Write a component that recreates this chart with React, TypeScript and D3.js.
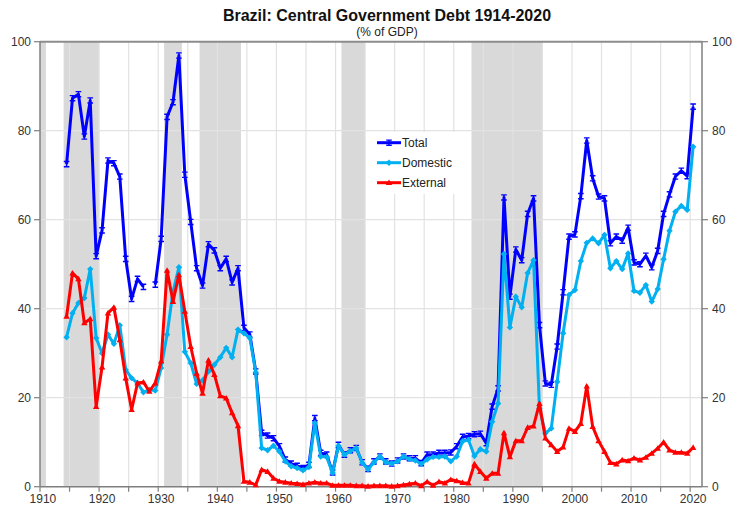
import * as d3 from "d3"

// categories and values (% of GDP)
const firstYear = 1914
const lastYear = 2020
const years = d3.range(firstYear, lastYear + 1)

const total: (number | null)[] = [
  72.5, 87.3, 88.2, 78.7, 86.8, 51.8, 57.6, 73.3, 72.7, 69.7,
  51.2, 42.2, 46.7, 44.9, null, 45.4, 55.7, 83.1, 86.4, 96.9,
  70.1, 59.5, 49.1, 45.2, 54.5, 53.1, 49.1, 51.2, 45.9, 49.1,
  35.7, 34.2, 25.9, 12.1, 11.5, 10.9, 9.1, 6.1, 5.2, 4.7,
  4.2, 4.9, 15.4, 7.6, 7.2, 3.2, 9.4, 7.2, 8.2, 8.7,
  5.5, 4.0, 5.7, 6.8, 5.7, 5.2, 5.9, 6.8, 6.4, 6.4,
  5.3, 7.2, 7.2, 7.6, 7.6, 7.7, 9.1, 11.2, 11.4, 11.8,
  11.9, 9.8, 18.0, 22.1, 65.0, 42.7, 53.3, 50.9, 61.3, 64.8,
  36.3, 23.2, 22.9, 31.5, 43.7, 56.2, 56.7, 65.3, 77.8, 69.3,
  65.2, 64.8, 54.7, 56.2, 55.3, 58.2, 50.4, 50.0, 51.9, 49.3,
  53.0, 61.3, 65.7, 69.7, 71.0, 69.8, 85.4,
]

const domestic: (number | null)[] = [
  33.6, 39.0, 41.3, 42.4, 48.9, 33.4, 30.0, 34.2, 32.1, 36.3,
  26.3, 24.4, 23.3, 21.2, 21.8, 21.6, 26.7, 34.2, 43.8, 49.3,
  30.3, 27.8, 23.1, 23.9, 25.9, 27.4, 29.1, 31.2, 29.1, 35.3,
  34.5, 33.4, 25.7, 8.7, 8.2, 9.2, 7.9, 5.7, 4.6, 4.2,
  3.7, 4.4, 14.3, 6.8, 6.7, 3.1, 9.2, 7.2, 8.0, 8.7,
  5.4, 3.9, 5.5, 6.8, 5.5, 5.2, 5.7, 6.8, 6.2, 5.9,
  5.1, 6.1, 6.7, 6.7, 6.8, 5.7, 6.8, 10.2, 10.5, 6.9,
  8.4, 7.9, 14.6, 18.7, 52.3, 35.8, 42.7, 40.3, 48.0, 50.9,
  17.6, 12.0, 13.1, 23.6, 34.5, 43.1, 44.2, 50.7, 54.8, 55.8,
  54.7, 56.6, 49.1, 50.7, 48.9, 52.4, 44.0, 43.6, 45.3, 41.6,
  44.4, 51.1, 57.5, 61.8, 63.1, 62.2, 76.4,
]

const external: (number | null)[] = [
  38.3, 48.0, 46.7, 36.8, 37.7, 18.0, 26.9, 39.0, 40.3, 33.0,
  24.4, 17.3, 23.3, 23.5, 21.4, 23.3, 28.2, 48.6, 41.6, 47.6,
  39.4, 31.5, 25.5, 21.0, 28.4, 25.2, 20.4, 19.9, 16.6, 13.7,
  1.2, 1.0, 0.4, 3.8, 3.4, 1.9, 1.2, 1.0, 0.8, 0.7,
  0.5, 0.8, 1.0, 0.8, 0.8, 0.3, 0.3, 0.3, 0.3, 0.2,
  0.2, 0.1, 0.2, 0.2, 0.2, 0.1, 0.2, 0.4, 0.6, 0.8,
  0.2, 1.1, 0.3, 1.1, 0.8, 1.6, 1.3, 0.9, 0.8, 5.1,
  3.4, 1.9, 3.0, 3.0, 12.1, 6.7, 10.3, 10.3, 13.3, 13.6,
  18.7, 10.9, 9.4, 7.9, 8.9, 13.1, 12.4, 14.2, 22.6, 13.5,
  10.3, 7.9, 5.4, 5.1, 6.0, 5.8, 6.4, 6.0, 6.6, 7.5,
  8.6, 10.0, 8.2, 7.7, 7.7, 7.5, 8.8,
]

// shaded periods (first year, last year)
const shaded: [number, number][] = [
  [1910, 1910], [1914, 1919], [1931, 1933], [1937, 1943], [1961, 1964], [1983, 1994],
]

const yTicks = [0, 20, 40, 60, 80, 100]
const xLabels = [1910, 1920, 1930, 1940, 1950, 1960, 1970, 1980, 1990, 2000, 2010, 2020]

const W = 736
const H = 508
const left = 40
const right = 702
const top = 41.7
const bottom = 486.7
const font = "'Liberation Sans', Arial, sans-serif"

const series = [
  { name: "Total", values: total, color: "#0000FF", marker: "dash" },
  { name: "Domestic", values: domestic, color: "#00B0F0", marker: "diamond" },
  { name: "External", values: external, color: "#FF0000", marker: "triangle" },
]

const Marker = ({ kind, color, x, y }: { kind: string; color: string; x: number; y: number }) => {
  if (kind === "dash")
    return (
      <path
        d={`M${x - 2.8},${y - 2.6}h5.6M${x - 2.8},${y + 2.6}h5.6M${x},${y - 2.6}v5.2`}
        stroke={color}
        strokeWidth={1.4}
        fill="none"
      />
    )
  if (kind === "diamond")
    return <path d={`M${x},${y - 3.2}L${x + 3.2},${y}L${x},${y + 3.2}L${x - 3.2},${y}Z`} fill={color} />
  return <path d={`M${x},${y - 3.2}L${x + 3.2},${y + 2.4}L${x - 3.2},${y + 2.4}Z`} fill={color} />
}

export default function App() {
  const x = d3.scaleLinear().domain([1909.5, 2021.5]).range([left, right])
  const y = d3.scaleLinear().domain([0, 100]).range([bottom, top])

  const xTicks = d3.range(1909.5, 2021, 5)

  const line = d3
    .line<[number, number | null]>()
    .defined((d) => d[1] != null)
    .x((d) => x(d[0]))
    .y((d) => y(d[1] as number))

  return (
    <svg
      width={W}
      height={H}
      style={{ position: "absolute", left: 0, top: 0, display: "block", background: "#fff" }}
      fontFamily={font}
    >
      {/* shaded periods */}
      {shaded.map(([a, b], i) => (
        <rect key={i} x={x(a - 0.5)} y={top} width={x(b + 0.5) - x(a - 0.5)} height={bottom - top} fill="#d9d9d9" />
      ))}

      {/* grid */}
      {yTicks.slice(1, -1).map((t) => (
        <line key={t} x1={left} x2={right} y1={y(t)} y2={y(t)} stroke="#e2e2e2" strokeWidth={1.2} />
      ))}
      {xTicks.slice(1).map((t) => (
        <line key={t} x1={x(t)} x2={x(t)} y1={top} y2={bottom} stroke="#e2e2e2" strokeWidth={1.2} />
      ))}

      {/* legend box */}
      <rect x={366} y={132} width={92} height={62} fill="#fff" />

      {/* plot frame */}
      <line x1={left} x2={right} y1={top} y2={top} stroke="#8c8c8c" strokeWidth={2} />
      <line x1={left} x2={left} y1={top} y2={bottom} stroke="#7f7f7f" strokeWidth={1.5} />
      <line x1={right} x2={right} y1={top} y2={bottom} stroke="#7f7f7f" strokeWidth={1.5} />
      <line x1={left} x2={right} y1={bottom} y2={bottom} stroke="#7f7f7f" strokeWidth={1.5} />

      {/* y axes */}
      {yTicks.map((t) => (
        <g key={t}>
          <line x1={left - 6} x2={left} y1={y(t)} y2={y(t)} stroke="#7f7f7f" strokeWidth={1.2} />
          <line x1={right} x2={right + 6} y1={y(t)} y2={y(t)} stroke="#7f7f7f" strokeWidth={1.2} />
          <text x={31} y={y(t) + 4.3} textAnchor="end" fontSize={12} fill="#333">
            {t}
          </text>
          <text x={712} y={y(t) + 4.3} textAnchor="start" fontSize={12} fill="#333">
            {t}
          </text>
        </g>
      ))}

      {/* x axis */}
      {xTicks.map((t) => (
        <line key={t} x1={x(t)} x2={x(t)} y1={bottom} y2={bottom + 5} stroke="#7f7f7f" strokeWidth={1.2} />
      ))}
      {xLabels.map((t) => (
        <text key={t} x={x(t)} y={503} textAnchor="middle" fontSize={12} fill="#333">
          {t}
        </text>
      ))}

      {/* series */}
      {series.map((s) => {
        const pts = years.map((yr, i) => [yr, s.values[i]] as [number, number | null])
        return (
          <g key={s.name}>
            <path d={line(pts) || ""} fill="none" stroke={s.color} strokeWidth={3} strokeLinejoin="round" />
            {pts
              .filter((p) => p[1] != null)
              .map((p) => (
                <Marker key={p[0]} kind={s.marker} color={s.color} x={x(p[0])} y={y(p[1] as number)} />
              ))}
          </g>
        )
      })}

      {/* legend */}
      {series.map((s, i) => {
        const ly = 142.7 + i * 20
        return (
          <g key={s.name}>
            <line x1={377} x2={401} y1={ly} y2={ly} stroke={s.color} strokeWidth={3} />
            <Marker kind={s.marker} color={s.color} x={389} y={ly} />
            <text x={402} y={ly + 4.3} fontSize={12} fill="#222">
              {s.name}
            </text>
          </g>
        )
      })}

      {/* titles */}
      <text x={387} y={21} textAnchor="middle" fontSize={16} fontWeight="bold" fill="#111">
        Brazil: Central Government Debt 1914-2020
      </text>
      <text x={387} y={35.5} textAnchor="middle" fontSize={12} fill="#222">
        (% of GDP)
      </text>
    </svg>
  )
}
